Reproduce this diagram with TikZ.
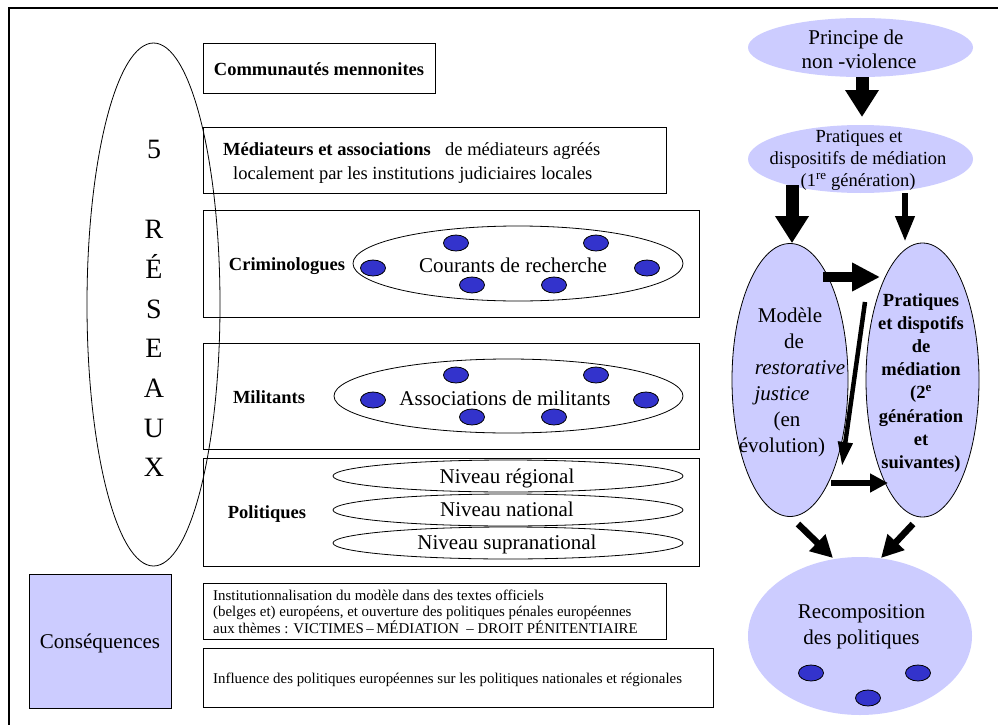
\documentclass[tikz,border=0pt]{standalone}
\usepackage{fontspec}
\setmainfont{Liberation Serif}
\usetikzlibrary{shapes.geometric,arrows.meta}
\definecolor{lav}{HTML}{CCCCFF}
\definecolor{dotblue}{HTML}{3333CC}
\begin{document}
\begin{tikzpicture}[x=1pt,y=-1pt,
  boxn/.style={draw, line width=0.9pt, inner sep=0, rectangle},
  ell/.style={ellipse, draw, line width=0.8pt, inner sep=0},
  lavell/.style={ellipse, fill=lav, inner sep=0},
  lavelld/.style={ellipse, fill=lav, draw, line width=0.8pt, inner sep=0},
  bdot/.style={ellipse, fill=dotblue, draw, line width=0.8pt, minimum width=25pt, minimum height=16pt, inner sep=0},
  txt/.style={anchor=base, inner sep=0},
  fA/.style={font=\fontsize{21}{25}\selectfont},
  fAi/.style={font=\fontsize{21}{25}\selectfont\itshape},
  fB/.style={font=\fontsize{18.5}{22}\selectfont\bfseries},
  fR/.style={font=\fontsize{18.5}{22}\selectfont},
  fS/.style={font=\fontsize{14.9}{16.5}\selectfont},
  fX/.style={font=\fontsize{28}{30}\selectfont},
  arrbig/.style={line width=13pt, -{Triangle[length=27pt,width=32pt]}},
  arrmid/.style={line width=10pt, -{Triangle[length=28pt,width=27pt]}},
  arrsm/.style={line width=6.5pt, -{Triangle[length=26pt,width=18pt]}},
  arrthin/.style={line width=6pt, -{Triangle[length=18pt,width=18pt]}},
  arrdiag/.style={line width=4.5pt, -{Triangle[length=24pt,width=14pt]}},
  arrlow/.style={line width=6.5pt, -{Triangle[length=22pt,width=22pt]}}
]
\useasboundingbox (0,0) rectangle (998,725);
\fill[white] (0,0) rectangle (998,725);
% outer frame (top and left only)
\coordinate (fTL) at (9,8);
\coordinate (fTR) at (998,8);
\coordinate (fBL) at (9,725);
\draw[line width=2pt] (fTR) -- (fTL) -- (fBL);

% big ellipse 5 RESEAUX
\node[ell, minimum width=133pt, minimum height=523pt] (reseaux) at (153.5,304.5) {};
\foreach \t/\yy [count=\i] in {5/158, R/238, É/278, S/318, E/357, A/397, U/437, X/476}
  \node[txt, fX] (rs\i) at (154,\yy) {\t};

% boxes
\node[boxn, minimum width=232pt, minimum height=50pt] (comm) at (319,68) {};
\node[txt, fB] (commt) at (319,75) {Communautés mennonites};

\node[boxn, minimum width=463pt, minimum height=66pt] (medi) at (434.5,160) {};
\node[txt, fB, anchor=base west] (medit1) at (223,155) {Médiateurs et associations};
\node[txt, fR, anchor=base west] (medit2) at (445,155) {de médiateurs agréés};
\node[txt, fR, anchor=base west] (medit3) at (233,179) {localement par les institutions judiciaires locales};

\node[boxn, minimum width=496pt, minimum height=107pt] (crim) at (451,263.5) {};
\node[txt, fB] (crimt) at (287,270) {Criminologues};
\node[ell, minimum width=330pt, minimum height=75pt] (crimell) at (518,263.5) {};
\node[txt, fA] (crimet) at (513,272) {Courants de recherche};
\foreach \xx/\yy [count=\i] in {456/243, 596/243, 373/268, 647/268, 472/285, 554/285}
  \node[bdot] (cd\i) at (\xx,\yy) {};

\node[boxn, minimum width=496pt, minimum height=106pt] (mili) at (451,396) {};
\node[txt, fB] (milit) at (269,403) {Militants};
\node[ell, minimum width=349pt, minimum height=74pt] (miliell) at (508.5,396) {};
\node[txt, fA] (miliet) at (505,405) {Associations de militants};
\foreach \xx/\yy [count=\i] in {456/375, 596/375, 373/400, 646/400, 472/417, 554/417}
  \node[bdot] (md\i) at (\xx,\yy) {};

\node[boxn, minimum width=496pt, minimum height=108pt] (poli) at (451,512) {};
\node[txt, fB] (polit) at (267,518) {Politiques};
\node[ell, minimum width=350pt, minimum height=32pt] (niv1) at (508,476) {};
\node[ell, minimum width=350pt, minimum height=32pt] (niv2) at (508,510) {};
\node[ell, minimum width=350pt, minimum height=32pt] (niv3) at (508,543) {};
\node[txt, fA] (niv1t) at (507,483) {Niveau régional};
\node[txt, fA] (niv2t) at (507,516) {Niveau national};
\node[txt, fA] (niv3t) at (507,549) {Niveau supranational};

% consequences
\node[boxn, fill=lav, minimum width=142pt, minimum height=134pt] (cons) at (100,641) {};
\node[txt, fA] (const) at (100,648) {Conséquences};

\node[boxn, minimum width=463pt, minimum height=56pt] (inst) at (434.5,611) {};
\node[txt, fS, anchor=base west] (inst1) at (213,600) {Institutionnalisation du modèle dans des textes officiels};
\node[txt, fS, anchor=base west] (inst2) at (213,616.5) {(belges et) européens, et ouverture des politiques pénales européennes};
\node[txt, fS, anchor=base west] (inst3) at (213,633) {aux thèmes : VICTIMES\,–\,MÉDIATION \ – DROIT PÉNITENTIAIRE};

\node[boxn, minimum width=510pt, minimum height=59pt] (infl) at (458,677.5) {};
\node[txt, fS, anchor=base west] (infl1) at (213,683) {Influence des politiques européennes sur les politiques nationales et régionales};

% right side
\node[lavell, minimum width=225pt, minimum height=59pt] (princ) at (860.5,47.5) {};
\node[txt, fA] (princ1) at (856,45) {Principe de};
\node[txt, fA] (princ2) at (859,68) {non -violence};

\node[lavell, minimum width=225pt, minimum height=68pt] (prat1) at (860.5,159) {};
\node[txt, fR] (prat1a) at (859,142) {Pratiques et};
\node[txt, fR] (prat1b) at (858,164) {dispositifs de médiation};
\node[txt, fR] (prat1c) at (858,186) {(1\textsuperscript{re} génération)};

\node[lavelld, minimum width=116pt, minimum height=273pt] (model) at (790,380) {};
\foreach \t/\xx/\yy [count=\i] in {Modèle/790/322, de/794/348}
  \node[txt, fA] (mt\i) at (\xx,\yy) {\t};
\node[txt, fAi] (mt3) at (800,374) {restorative};
\node[txt, fAi] (mt4) at (782,400) {justice};
\node[txt, fA] (mt5) at (787,426) {(en};
\node[txt, fA] (mt6) at (782,452) {évolution)};

\node[lavelld, minimum width=113pt, minimum height=274pt] (prat2) at (922.5,380) {};
\foreach \t/\yy [count=\i] in {Pratiques/306, et dispotifs/329, de/352, médiation/375, {(2\textsuperscript{e}}/398, génération/422, et/445, suivantes)/468}
  \node[txt, fB] (pt\i) at (921,\yy) {\t};

\node[lavell, minimum width=224pt, minimum height=158pt] (recomp) at (860,636) {};
\node[txt, fA] (rc1) at (861.5,618) {Recomposition};
\node[txt, fA] (rc2) at (861.5,644) {des politiques};
\foreach \xx/\yy [count=\i] in {811/673, 918/673, 868/698}
  \node[bdot] (rd\i) at (\xx,\yy) {};

% arrows
\coordinate (a1e) at (862,117);
\draw[arrbig] (862,77) coordinate (a1s) -- (a1e);
\coordinate (a2s) at (792,185);
\draw[arrbig] (a2s) -- (model.north -| a2s);
\coordinate (a3s) at (905,193);
\coordinate (a3e) at (905,242);
\draw[arrsm] (a3s) -- (a3e);
\coordinate (a4s) at (823,277);
\coordinate (a4e) at (880,277);
\draw[arrmid] (a4s) -- (a4e);
\coordinate (a5s) at (865,302);
\coordinate (a5e) at (842,466);
\draw[arrdiag] (a5s) -- (a5e);
\coordinate (a6s) at (831,483);
\coordinate (a6e) at (888,483);
\draw[arrthin] (a6s) -- (a6e);
\coordinate (a7s) at (798,524);
\coordinate (a7e) at (833,558);
\draw[arrlow] (a7s) -- (a7e);
\coordinate (a8s) at (913,524);
\coordinate (a8e) at (881,558);
\draw[arrlow] (a8s) -- (a8e);
\end{tikzpicture}
\end{document}
